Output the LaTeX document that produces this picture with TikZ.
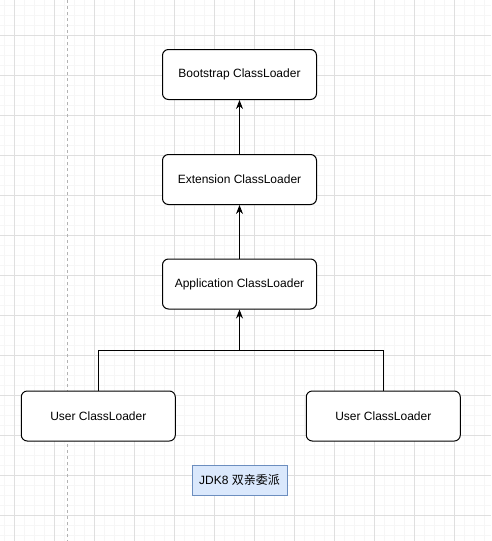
\documentclass[tikz,border=0pt]{standalone}
\usepackage{fontspec}
\setmainfont{Liberation Sans}
\newfontfamily\cjk{Noto Sans CJK SC}
\usetikzlibrary{arrows.meta}
\definecolor{gridminor}{HTML}{F6F6F6}
\definecolor{gridmajor}{HTML}{DFDFDF}
\definecolor{notefill}{HTML}{DAE8FC}
\definecolor{noteline}{HTML}{6C8EBF}
\tikzset{
    loader/.style={draw, line width=1pt, rounded corners=6pt, fill=white,
        minimum width=154pt, minimum height=50pt, inner sep=0pt, font=\fontsize{12}{14}\selectfont},
    note/.style={draw=noteline, fill=notefill, line width=1pt,
        minimum width=95pt, minimum height=30pt, inner sep=0pt, font=\fontsize{12}{14}\selectfont},
    up/.style={line width=1pt, -{Stealth[length=9pt, width=7pt]}}
}
\begin{document}
\begin{tikzpicture}[x=1pt, y=-1pt]
    \useasboundingbox (0, 0) rectangle (491, 541);
    \fill[white] (0, 0) rectangle (491, 541);
    \foreach \x in {4, 14, ..., 484} \draw[gridminor, line width=1pt] (\x, 0) -- (\x, 541);
    \foreach \y in {5, 15, ..., 535} \draw[gridminor, line width=1pt] (0, \y) -- (491, \y);
    \foreach \x in {14, 54, ..., 494} \draw[gridmajor, line width=1pt] (\x, 0) -- (\x, 541);
    \foreach \y in {35, 75, ..., 535} \draw[gridmajor, line width=1pt] (0, \y) -- (491, \y);
    \draw[gray!60, line width=1pt, dash pattern=on 3pt off 3pt] (67.5, 0) -- (67.5, 541);

    \node[loader] (boot) at (239.5, 74.5) {Bootstrap ClassLoader};
    \node[loader] (ext) at (239.5, 179.5) {Extension ClassLoader};
    \node[loader] (app) at (239.5, 284) {Application ClassLoader};
    \node[loader] (userA) at (98.3, 416) {User ClassLoader};
    \node[loader] (userB) at (383.3, 416) {User ClassLoader};
    \coordinate (split) at (239.5, 350.3);

    \draw[up] (ext) -- (boot);
    \draw[up] (app) -- (ext);
    \draw[line width=1pt] (userA.north) |- (split) -| (userB.north);
    \draw[up] (split) -- (app);

    \node[note] (title) at (239.5, 480.3) {JDK8 {\cjk 双亲委派}};
\end{tikzpicture}
\end{document}
